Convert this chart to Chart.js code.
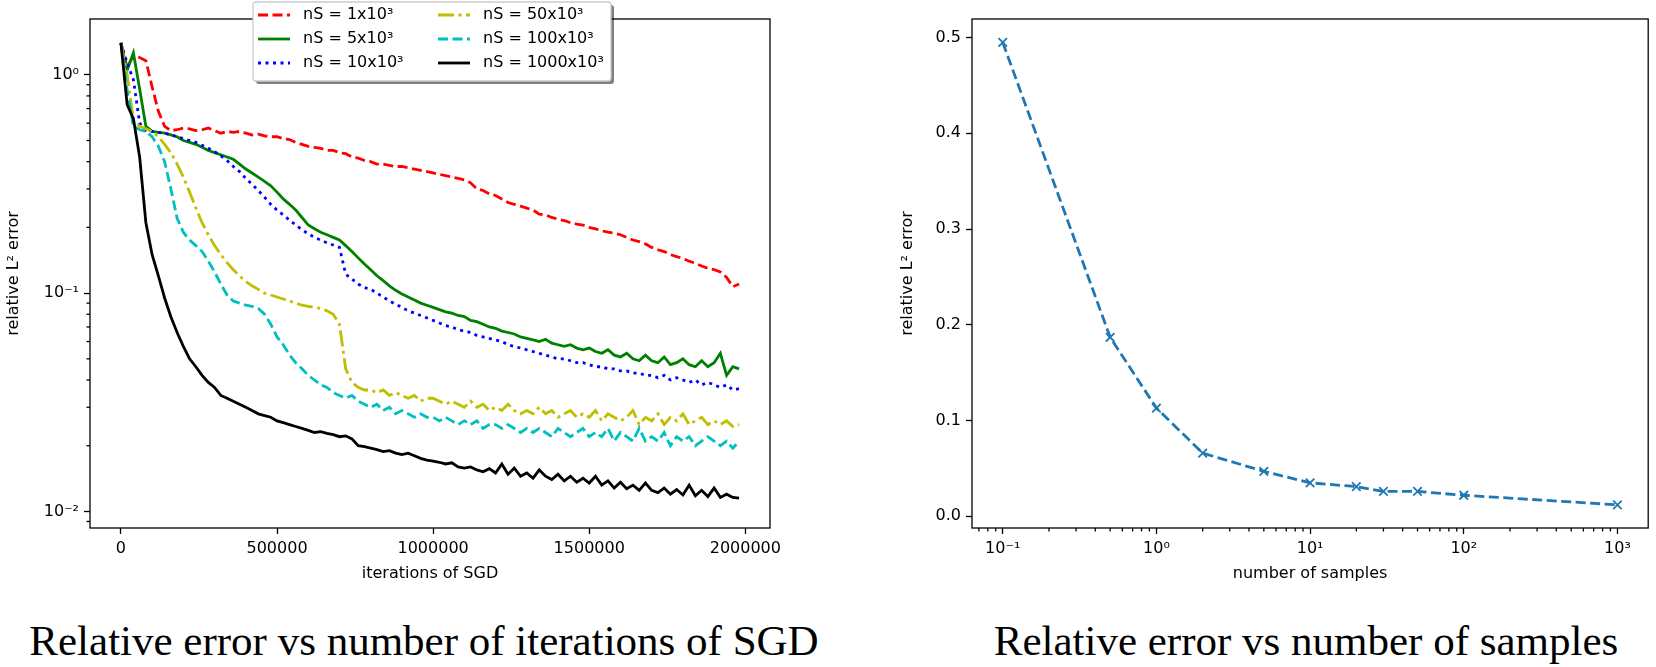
<!DOCTYPE html>
<html>
<head>
<meta charset="utf-8">
<script src="https://cdn.jsdelivr.net/npm/chart.js@4.4.1/dist/chart.umd.min.js"></script>
<style>
  body { margin: 0; background: #fff; width: 1656px; height: 667px; position: relative; overflow: hidden; }
  .box { position: absolute; top: 0; }
  .cap { position: absolute; top: 619px; height: 44px; line-height: 44px; font-family: "Liberation Serif", serif; font-size: 43px; text-align: center; color: #000; white-space: nowrap; }
</style>
</head>
<body>
<div class="box" style="left:0px"><canvas id="sgdChart" width="800" height="583"></canvas></div>
<div class="box" style="left:860px"><canvas id="samplesChart" width="796" height="583"></canvas></div>
<div class="cap" style="left:24px;width:800px">Relative error vs number of iterations of SGD</div>
<div class="cap" style="left:916px;width:780px">Relative error vs number of samples</div>
<script>
// ---- data: left plot (iterations of SGD vs relative L2 error) ----
const iters = [0, 20000, 40000, 60000, 80000, 100000, 120000, 140000, 160000, 180000,
  200000, 220000, 240000, 260000, 280000, 300000, 320000, 340000, 360000, 380000,
  400000, 420000, 440000, 460000, 480000, 500000, 520000, 540000, 560000, 580000,
  600000, 620000, 640000, 660000, 680000, 700000, 720000, 740000, 760000, 780000,
  800000, 820000, 840000, 860000, 880000, 900000, 920000, 940000, 960000, 980000,
  1000000, 1020000, 1040000, 1060000, 1080000, 1100000, 1120000, 1140000, 1160000, 1180000,
  1200000, 1220000, 1240000, 1260000, 1280000, 1300000, 1320000, 1340000, 1360000, 1380000,
  1400000, 1420000, 1440000, 1460000, 1480000, 1500000, 1520000, 1540000, 1560000, 1580000,
  1600000, 1620000, 1640000, 1660000, 1680000, 1700000, 1720000, 1740000, 1760000, 1780000,
  1800000, 1820000, 1840000, 1860000, 1880000, 1900000, 1920000, 1940000, 1960000, 1980000];

const err1k = [1.40, 1.08, 1.22, 1.20, 1.16, 0.88, 0.68, 0.58, 0.555, 0.56,
  0.57, 0.565, 0.555, 0.56, 0.57, 0.555, 0.54, 0.55, 0.545, 0.55,
  0.54, 0.53, 0.535, 0.525, 0.52, 0.52, 0.51, 0.505, 0.49, 0.48,
  0.47, 0.465, 0.46, 0.45, 0.45, 0.44, 0.435, 0.42, 0.415, 0.405,
  0.40, 0.39, 0.39, 0.385, 0.38, 0.38, 0.375, 0.37, 0.365, 0.36,
  0.355, 0.35, 0.345, 0.34, 0.335, 0.33, 0.32, 0.30, 0.295, 0.285,
  0.28, 0.27, 0.26, 0.255, 0.25, 0.245, 0.24, 0.23, 0.228, 0.222,
  0.218, 0.215, 0.21, 0.207, 0.205, 0.20, 0.197, 0.193, 0.19, 0.188,
  0.185, 0.18, 0.175, 0.172, 0.168, 0.162, 0.158, 0.155, 0.15, 0.147,
  0.144, 0.14, 0.137, 0.133, 0.13, 0.128, 0.125, 0.118, 0.107, 0.11];

const err5k = [1.40, 1.05, 1.26, 0.86, 0.58, 0.55, 0.545, 0.54, 0.53, 0.52,
  0.50, 0.49, 0.48, 0.465, 0.45, 0.44, 0.43, 0.42, 0.41, 0.39,
  0.37, 0.355, 0.34, 0.325, 0.31, 0.29, 0.27, 0.255, 0.24, 0.222,
  0.205, 0.197, 0.19, 0.185, 0.18, 0.175, 0.165, 0.155, 0.145, 0.136,
  0.128, 0.12, 0.114, 0.108, 0.103, 0.099, 0.096, 0.093, 0.09, 0.088,
  0.086, 0.084, 0.082, 0.081, 0.079, 0.078, 0.075, 0.074, 0.072, 0.07,
  0.069, 0.067, 0.066, 0.065, 0.063, 0.062, 0.061, 0.06, 0.0615, 0.059,
  0.058, 0.057, 0.058, 0.056, 0.055, 0.056, 0.054, 0.053, 0.055, 0.052,
  0.051, 0.053, 0.05, 0.049, 0.052, 0.049, 0.048, 0.051, 0.047, 0.048,
  0.05, 0.047, 0.046, 0.049, 0.046, 0.048, 0.053, 0.042, 0.046, 0.045];

const err10k = [1.40, 1.13, 0.95, 0.60, 0.555, 0.55, 0.545, 0.54, 0.53, 0.52,
  0.51, 0.50, 0.49, 0.475, 0.46, 0.445, 0.425, 0.405, 0.38, 0.36,
  0.335, 0.315, 0.295, 0.275, 0.255, 0.24, 0.228, 0.216, 0.205, 0.195,
  0.187, 0.18, 0.175, 0.17, 0.166, 0.162, 0.122, 0.116, 0.11, 0.106,
  0.104, 0.10, 0.096, 0.092, 0.089, 0.086, 0.083, 0.081, 0.079, 0.077,
  0.075, 0.073, 0.071, 0.07, 0.068, 0.067, 0.066, 0.064, 0.063, 0.062,
  0.061, 0.06, 0.058, 0.057, 0.056, 0.055, 0.054, 0.053, 0.052, 0.051,
  0.05, 0.05, 0.049, 0.048, 0.048, 0.047, 0.046, 0.046, 0.045, 0.045,
  0.044, 0.044, 0.043, 0.043, 0.042, 0.042, 0.041, 0.042, 0.04, 0.041,
  0.04, 0.039, 0.04, 0.038, 0.039, 0.038, 0.037, 0.038, 0.036, 0.0365];

const err50k = [1.40, 1.00, 0.62, 0.58, 0.565, 0.55, 0.52, 0.48, 0.44, 0.39,
  0.34, 0.29, 0.245, 0.21, 0.185, 0.165, 0.15, 0.138, 0.128, 0.12,
  0.113, 0.108, 0.104, 0.10, 0.098, 0.096, 0.094, 0.092, 0.09, 0.088,
  0.087, 0.086, 0.085, 0.083, 0.08, 0.072, 0.045, 0.039, 0.037, 0.036,
  0.036, 0.035, 0.036, 0.034, 0.035, 0.034, 0.033, 0.034, 0.032, 0.033,
  0.033, 0.032, 0.031, 0.032, 0.031, 0.030, 0.032, 0.030, 0.031, 0.029,
  0.030, 0.029, 0.031, 0.029, 0.028, 0.029, 0.028, 0.030, 0.028, 0.029,
  0.027, 0.028, 0.029, 0.027, 0.028, 0.027, 0.029, 0.026, 0.028, 0.027,
  0.026, 0.027, 0.029, 0.025, 0.027, 0.026, 0.028, 0.025, 0.027, 0.026,
  0.028, 0.025, 0.026, 0.027, 0.025, 0.026, 0.025, 0.026, 0.0245, 0.025];

const err100k = [1.40, 0.85, 0.58, 0.56, 0.55, 0.52, 0.47, 0.40, 0.30, 0.22,
  0.19, 0.175, 0.165, 0.155, 0.14, 0.125, 0.11, 0.098, 0.092, 0.09,
  0.088, 0.087, 0.085, 0.08, 0.072, 0.063, 0.058, 0.052, 0.048, 0.045,
  0.042, 0.04, 0.038, 0.037, 0.035, 0.034, 0.033, 0.034, 0.032, 0.031,
  0.030, 0.031, 0.029, 0.030, 0.028, 0.029, 0.028, 0.027, 0.028, 0.027,
  0.027, 0.026, 0.027, 0.026, 0.025, 0.026, 0.025, 0.026, 0.024, 0.025,
  0.025, 0.024, 0.025, 0.024, 0.023, 0.024, 0.023, 0.024, 0.023, 0.022,
  0.024, 0.023, 0.022, 0.023, 0.024, 0.022, 0.023, 0.022, 0.024, 0.021,
  0.023, 0.022, 0.021, 0.024, 0.021, 0.022, 0.021, 0.023, 0.020, 0.022,
  0.021, 0.022, 0.020, 0.021, 0.022, 0.021, 0.020, 0.021, 0.0195, 0.021];

const err1000k = [1.40, 0.73, 0.63, 0.42, 0.21, 0.15, 0.12, 0.095, 0.078, 0.066,
  0.057, 0.05, 0.046, 0.042, 0.039, 0.037, 0.034, 0.033, 0.032, 0.031,
  0.030, 0.029, 0.028, 0.0275, 0.027, 0.026, 0.0255, 0.025, 0.0245, 0.024,
  0.0235, 0.023, 0.0232, 0.0228, 0.0225, 0.022, 0.0222, 0.0215, 0.020, 0.0198,
  0.0195, 0.0192, 0.0188, 0.019, 0.0185, 0.0182, 0.0185, 0.018, 0.0175, 0.0172,
  0.017, 0.0168, 0.0165, 0.0167, 0.016, 0.0158, 0.016, 0.0155, 0.0152, 0.0157,
  0.015, 0.0165, 0.0148, 0.0158, 0.0145, 0.015, 0.0142, 0.0155, 0.0145, 0.014,
  0.0148, 0.0138, 0.0145, 0.0136, 0.0142, 0.0135, 0.0145, 0.0132, 0.0138, 0.0128,
  0.0136, 0.0127, 0.0132, 0.0125, 0.0135, 0.0125, 0.0122, 0.0128, 0.012, 0.0126,
  0.0119, 0.0132, 0.0118, 0.0125, 0.0117, 0.0128, 0.0116, 0.012, 0.0116, 0.0115];

const seriesLabels = ['nS = 1x10³', 'nS = 5x10³', 'nS = 10x10³', 'nS = 50x10³', 'nS = 100x10³', 'nS = 1000x10³'];

// ---- data: right plot (number of samples vs relative L2 error) ----
const samples = [0.1, 0.5, 1, 2, 5, 10, 20, 30, 50, 100, 1000];
const sampleErr = [0.495, 0.187, 0.113, 0.066, 0.047, 0.035, 0.031, 0.026, 0.026, 0.022, 0.012];

// tick positions
const iterTicks = [0, 500000, 1000000, 1500000, 2000000];
const errMajor = [0.01, 0.1, 1];
const errMinor = [0.009, 0.02, 0.03, 0.04, 0.05, 0.06, 0.07, 0.08, 0.09, 0.2, 0.3, 0.4, 0.5, 0.6, 0.7, 0.8, 0.9];
const sampleMajor = [0.1, 1, 10, 100, 1000];
const sampleMinor = [0.07, 0.08, 0.09, 0.2, 0.3, 0.4, 0.5, 0.6, 0.7, 0.8, 0.9, 2, 3, 4, 5, 6, 7, 8, 9,
  20, 30, 40, 50, 60, 70, 80, 90, 200, 300, 400, 500, 600, 700, 800, 900];
const linTicks = [0, 0.1, 0.2, 0.3, 0.4, 0.5];

Chart.defaults.font.family = '"DejaVu Sans", sans-serif';
Chart.defaults.font.size = 16;
Chart.defaults.color = '#000';

const sup = { '-': '⁻', '0': '⁰', '1': '¹', '2': '²', '3': '³' };
function pow10Label(v) {
  const e = String(Math.round(Math.log10(v)));
  return '10' + e.split('').map(c => sup[c]).join('');
}

// frame on all four sides + short minor ticks
const framePlugin = {
  id: 'frame',
  afterDatasetsDraw(chart, args, opts) {
    const { ctx, chartArea: a } = chart;
    ctx.save();
    ctx.strokeStyle = '#000';
    ctx.lineWidth = 1.3;
    (opts.minor || []).forEach(m => {
      const s = chart.scales[m.axis];
      m.values.forEach(v => {
        const p = s.getPixelForValue(v);
        ctx.beginPath();
        if (m.axis === 'x') { ctx.moveTo(p, a.bottom); ctx.lineTo(p, a.bottom + 3.5); }
        else { ctx.moveTo(a.left, p); ctx.lineTo(a.left - 3.5, p); }
        ctx.stroke();
      });
    });
    ctx.strokeRect(a.left, a.top, a.right - a.left, a.bottom - a.top);
    ctx.restore();
  }
};

// matplotlib style legend box (2 columns, shadow)
const boxLegend = {
  id: 'boxLegend',
  afterDraw(chart, args, opts) {
    if (!opts.display) return;
    const ctx = chart.ctx;
    const { x, y, w, h } = opts;
    ctx.save();
    ctx.fillStyle = 'rgba(0,0,0,0.5)';
    ctx.beginPath(); ctx.roundRect(x + 3, y + 3, w, h, 3); ctx.fill();
    ctx.fillStyle = '#fff';
    ctx.beginPath(); ctx.roundRect(x, y, w, h, 3); ctx.fill();
    ctx.strokeStyle = '#cccccc'; ctx.lineWidth = 1.3; ctx.stroke();
    chart.data.datasets.forEach((ds, i) => {
      const col = Math.floor(i / 3), row = i % 3;
      const lx = x + 5 + col * 180, ly = y + 13 + row * 24;
      ctx.beginPath();
      ctx.setLineDash(ds.borderDash || []);
      ctx.strokeStyle = ds.borderColor;
      ctx.lineWidth = ds.borderWidth;
      ctx.moveTo(lx, ly); ctx.lineTo(lx + 32, ly);
      ctx.stroke();
      ctx.setLineDash([]);
      ctx.fillStyle = '#000';
      ctx.font = '16px "DejaVu Sans"';
      ctx.textBaseline = 'middle';
      ctx.fillText(ds.label, lx + 45, ly);
    });
    ctx.restore();
  }
};

function lineSet(label, ys, color, dash, order) {
  return {
    label: label,
    data: iters.map((x, i) => ({ x: x, y: ys[i] })),
    borderColor: color,
    borderWidth: 2.8,
    borderDash: dash,
    borderCapStyle: 'butt',
    pointRadius: 0,
    fill: false,
    tension: 0,
    order: order
  };
}

new Chart(document.getElementById('sgdChart'), {
  type: 'line',
  data: {
    datasets: [
      lineSet(seriesLabels[0], err1k, '#ff0000', [10, 4.5], 6),
      lineSet(seriesLabels[1], err5k, '#008000', [], 5),
      lineSet(seriesLabels[2], err10k, '#0000ff', [3, 4.5], 4),
      lineSet(seriesLabels[3], err50k, '#bfbf00', [16, 4.5, 3, 4.5], 3),
      lineSet(seriesLabels[4], err100k, '#00bfbf', [10, 4.5], 2),
      lineSet(seriesLabels[5], err1000k, '#000000', [], 1)
    ]
  },
  options: {
    responsive: false,
    animation: false,
    events: [],
    layout: { padding: { left: 0, top: 19, right: 30, bottom: 0 } },
    scales: {
      x: {
        type: 'linear', min: -99000, max: 2079000,
        afterBuildTicks: s => { s.ticks = iterTicks.map(v => ({ value: v })); },
        afterFit: s => { s.height = 55; },
        ticks: { callback: v => String(v), padding: 5, maxRotation: 0, autoSkip: false },
        grid: { drawOnChartArea: false, tickLength: 6, tickWidth: 1.3, tickColor: '#000' },
        border: { display: false },
        title: { display: true, text: 'iterations of SGD', padding: { top: 0, bottom: 0 } }
      },
      y: {
        type: 'logarithmic', min: 0.0084, max: 1.8,
        afterBuildTicks: s => { s.ticks = errMajor.map(v => ({ value: v })); },
        afterFit: s => { s.width = 90; },
        ticks: { callback: v => pow10Label(v), padding: 5, autoSkip: false },
        grid: { drawOnChartArea: false, tickLength: 6, tickWidth: 1.3, tickColor: '#000' },
        border: { display: false },
        title: { display: true, text: 'relative L² error', padding: { top: 4, bottom: 0 } }
      }
    },
    plugins: {
      legend: { display: false },
      tooltip: { enabled: false },
      frame: { minor: [{ axis: 'y', values: errMinor }] },
      boxLegend: { display: true, x: 253, y: 2, w: 358, h: 79 }
    }
  },
  plugins: [framePlugin, boxLegend]
});

new Chart(document.getElementById('samplesChart'), {
  type: 'line',
  data: {
    datasets: [{
      label: 'relative error',
      data: samples.map((x, i) => ({ x: x, y: sampleErr[i] })),
      borderColor: '#1f77b4',
      borderWidth: 2.8,
      borderDash: [10, 4.5],
      borderCapStyle: 'butt',
      pointStyle: 'crossRot',
      pointRadius: 6,
      pointBorderWidth: 1.8,
      pointBorderColor: '#1f77b4',
      pointBackgroundColor: '#1f77b4',
      fill: false,
      tension: 0
    }]
  },
  options: {
    responsive: false,
    animation: false,
    events: [],
    layout: { padding: { left: 0, top: 19, right: 3, bottom: 0 } },
    scales: {
      x: {
        type: 'logarithmic', min: 0.0631, max: 1585,
        afterBuildTicks: s => { s.ticks = sampleMajor.map(v => ({ value: v })); },
        afterFit: s => { s.height = 55; },
        ticks: { callback: v => pow10Label(v), padding: 5, maxRotation: 0, autoSkip: false },
        grid: { drawOnChartArea: false, tickLength: 6, tickWidth: 1.3, tickColor: '#000' },
        border: { display: false },
        title: { display: true, text: 'number of samples', padding: { top: 0, bottom: 0 } }
      },
      y: {
        type: 'linear', min: -0.0122, max: 0.5194,
        afterBuildTicks: s => { s.ticks = linTicks.map(v => ({ value: v })); },
        afterFit: s => { s.width = 112; },
        ticks: { callback: v => v.toFixed(1), padding: 5, autoSkip: false },
        grid: { drawOnChartArea: false, tickLength: 6, tickWidth: 1.3, tickColor: '#000' },
        border: { display: false },
        title: { display: true, text: 'relative L² error', padding: { top: 38, bottom: 0 } }
      }
    },
    plugins: {
      legend: { display: false },
      tooltip: { enabled: false },
      frame: { minor: [{ axis: 'x', values: sampleMinor }] },
      boxLegend: { display: false }
    }
  },
  plugins: [framePlugin, boxLegend]
});
</script>
</body>
</html>
